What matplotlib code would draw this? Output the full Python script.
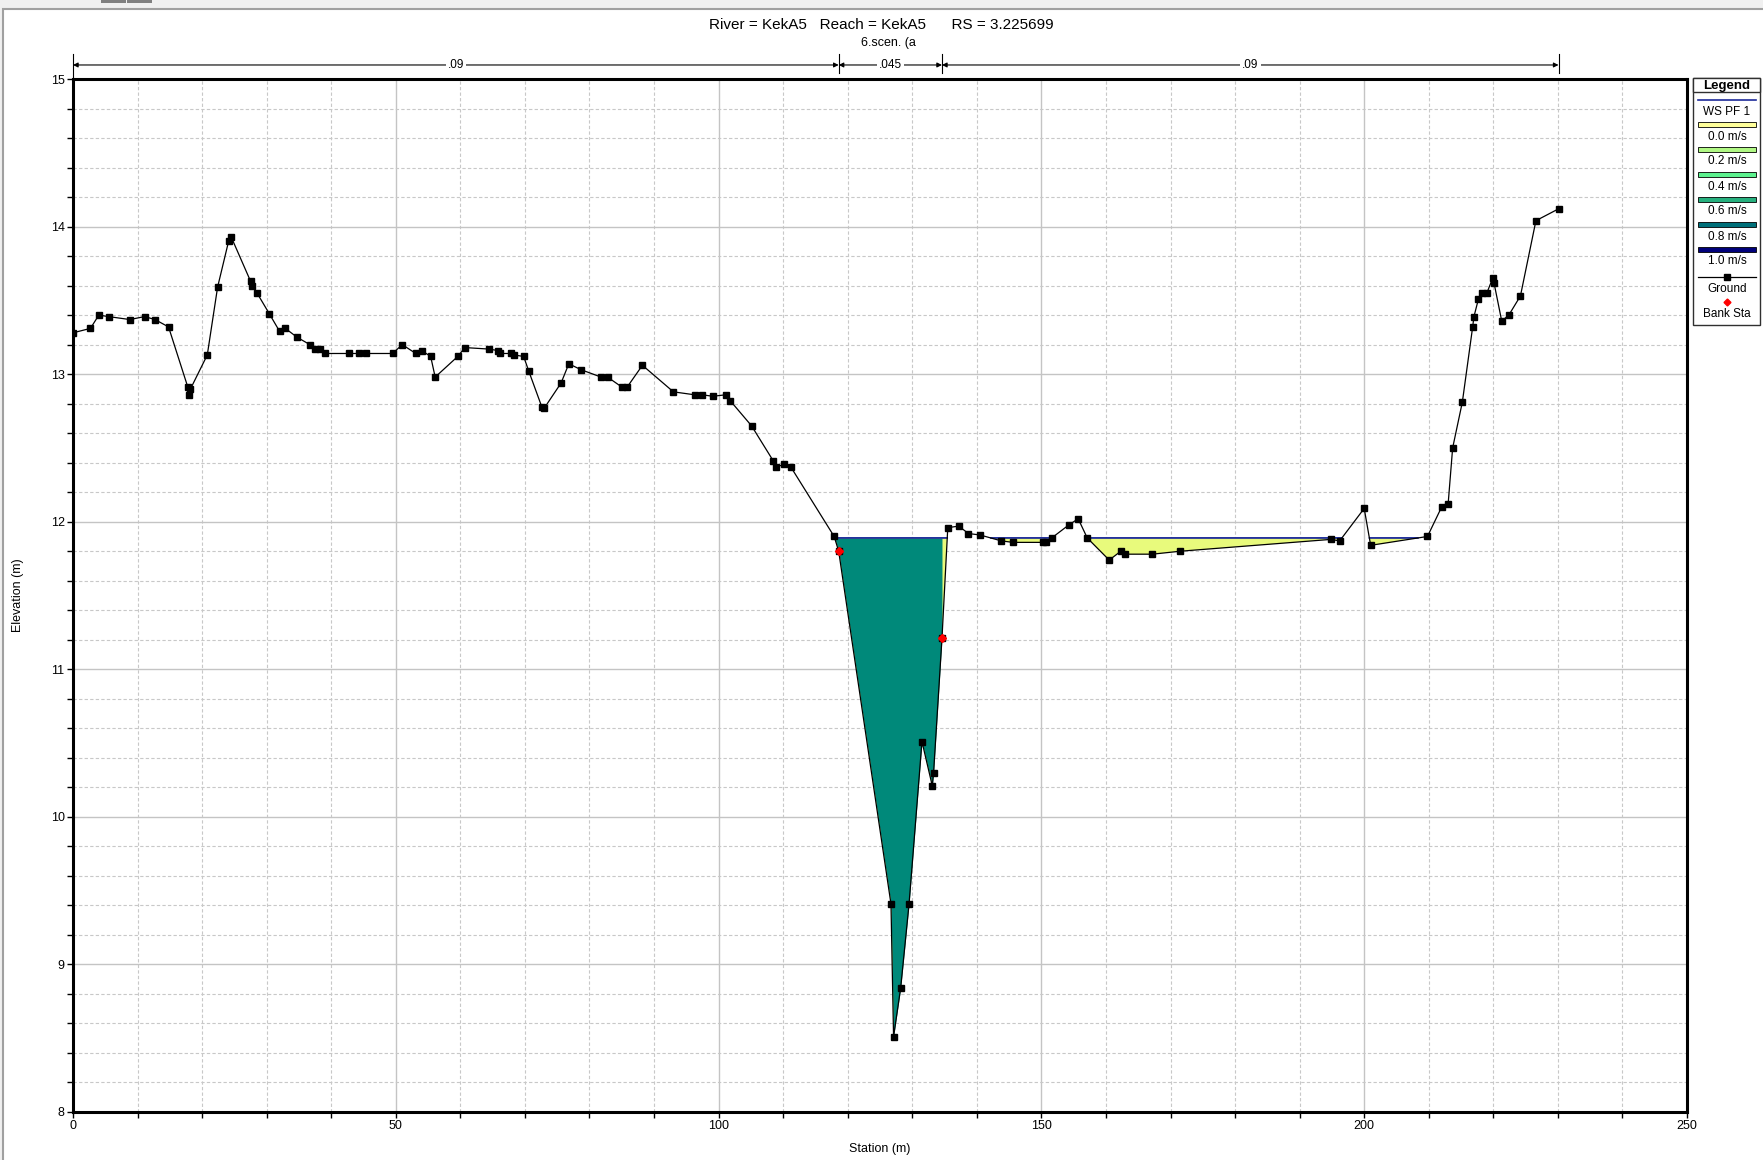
import numpy as np
import matplotlib
matplotlib.use("Agg")
import matplotlib.pyplot as plt
from matplotlib.patches import Rectangle
from matplotlib.ticker import MultipleLocator

# ground profile (station m, elevation m)
station = [0.0, 2.7, 4.0, 5.5, 8.8, 11.1, 12.7, 14.8, 17.8, 18.0, 18.2, 20.8,
           22.4, 24.1, 24.5, 27.5, 27.8, 28.5, 30.4, 32.0, 32.9, 34.7, 36.7,
           37.5, 38.2, 39.0, 42.8, 44.3, 45.4, 49.5, 51.0, 53.1, 54.0, 55.4,
           56.1, 59.6, 60.7, 64.4, 65.8, 66.2, 67.8, 68.3, 69.8, 70.6, 72.6,
           73.0, 75.6, 76.8, 78.7, 81.8, 82.8, 85.1, 85.8, 88.2, 93.0, 96.3,
           97.5, 99.1, 101.1, 101.8, 105.1, 108.5, 108.9, 110.2, 111.2, 117.9,
           118.6, 126.7, 127.1, 128.2, 129.5, 131.5, 133.1, 133.3, 134.6, 135.5,
           137.2, 138.7, 140.5, 143.8, 145.6, 150.3, 150.7, 151.6, 154.3, 155.7,
           157.1, 160.5, 162.3, 162.9, 167.2, 171.5, 194.8, 196.2, 200.0, 201.0,
           209.8, 212.0, 213.0, 213.7, 215.2, 216.8, 217.0, 217.7, 218.2, 219.0,
           219.9, 220.1, 221.3, 222.4, 224.2, 226.6, 230.1]
elevation = [13.28, 13.31, 13.40, 13.39, 13.37, 13.39, 13.37, 13.32, 12.91, 12.86,
             12.90, 13.13, 13.59, 13.90, 13.93, 13.63, 13.60, 13.55, 13.41, 13.29,
             13.31, 13.25, 13.20, 13.17, 13.17, 13.14, 13.14, 13.14, 13.14, 13.14,
             13.20, 13.14, 13.16, 13.12, 12.98, 13.12, 13.18, 13.17, 13.16, 13.14,
             13.14, 13.13, 13.12, 13.02, 12.78, 12.77, 12.94, 13.07, 13.03, 12.98,
             12.98, 12.91, 12.91, 13.06, 12.88, 12.86, 12.86, 12.85, 12.86, 12.82,
             12.65, 12.41, 12.37, 12.39, 12.37, 11.90, 11.80, 9.41, 8.51, 8.84,
             9.41, 10.51, 10.21, 10.30, 11.21, 11.96, 11.97, 11.92, 11.91, 11.87,
             11.86, 11.86, 11.86, 11.89, 11.98, 12.02, 11.89, 11.74, 11.80, 11.78,
             11.78, 11.80, 11.88, 11.87, 12.09, 11.84, 11.90, 12.10, 12.12, 12.50,
             12.81, 13.32, 13.39, 13.51, 13.55, 13.55, 13.65, 13.62, 13.36, 13.40,
             13.53, 14.04, 14.12]

bank_station = [118.6, 134.6]
bank_elevation = [11.80, 11.21]
ws_elevation = 11.89

mann_bounds = [0.0, 118.6, 134.6, 230.1]
mann_values = [".09", ".045", ".09"]

vel_labels = ["0.0 m/s", "0.2 m/s", "0.4 m/s", "0.6 m/s", "0.8 m/s", "1.0 m/s"]
vel_colors = ["#ffff99", "#b0f884", "#5cf28e", "#26b07e", "#00707a", "#00007a"]

title = "River = KekA5   Reach = KekA5      RS = 3.225699"
subtitle = "6.scen. (a"

W, H = 1763, 1160
plt.rcParams['font.family'] = ['Liberation Sans', 'DejaVu Sans']

fig = plt.figure(figsize=(W / 100, H / 100), dpi=100)
fig.patch.set_facecolor('#f0f0f0')
fig.add_artist(Rectangle((3 / W, -0.01), 1.0, 1 - 9 / H + 0.01, transform=fig.transFigure,
                         facecolor='white', edgecolor='#a0a0a0', lw=1.5, zorder=-5))
for bx in (101, 127):
    fig.add_artist(Rectangle((bx / W, 1 - 3 / H), 25 / W, 3 / H, transform=fig.transFigure,
                             facecolor='#808080', edgecolor='none', zorder=-4))

ax = fig.add_axes([73 / W, 1 - 1112 / H, (1687 - 73) / W, (1112 - 79) / H])
ax.set_xlim(0, 250)
ax.set_ylim(8, 15)
ax.set_xticks(np.arange(0, 251, 50))
ax.set_yticks(np.arange(8, 16, 1))
ax.xaxis.set_minor_locator(MultipleLocator(10))
ax.yaxis.set_minor_locator(MultipleLocator(0.2))
ax.grid(which='major', color='#c4c4c4', lw=1.0, ls='-', zorder=0)
ax.grid(which='minor', color='#c8c8c8', lw=0.8, ls=(0, (3, 2)), zorder=0)
ax.set_axisbelow(True)
for s in ax.spines.values():
    s.set_linewidth(2.2)
ax.tick_params(which='major', direction='out', length=4, width=1, labelsize=9, pad=2)
ax.tick_params(which='minor', direction='out', length=4, width=1)

st = np.array(station)
el = np.array(elevation)

# ponded water and channel flow
ax.fill_between(st, el, ws_elevation, where=el < ws_elevation, interpolate=True,
                color='#e8fa7c', lw=0, zorder=2)
chan = (st >= 117.9) & (st <= bank_station[1])
ax.fill_between(st, el, ws_elevation, where=chan, color='#00897a', lw=0, zorder=3)

xs = np.linspace(st[0], st[-1], 6000)
gs = np.interp(xs, st, el)
ax.plot(xs, np.where(gs < ws_elevation, ws_elevation, np.nan), color='#1c2a9a', lw=1.3, zorder=4)

ax.plot(st, el, color='black', lw=0.9, marker='s', ms=4, zorder=5)
ax.plot(bank_station, bank_elevation, ls='none', marker='D', color='red', ms=4, zorder=6)

# Manning's n bars
yb = 15.095
for x0, x1, n in zip(mann_bounds[:-1], mann_bounds[1:], mann_values):
    ax.annotate('', xy=(x0, yb), xytext=(x1, yb), annotation_clip=False,
                arrowprops=dict(arrowstyle='<|-|>', color='black', lw=0.8,
                                shrinkA=0, shrinkB=0, mutation_scale=7))
    ax.text((x0 + x1) / 2, yb, n, ha='center', va='center', fontsize=8.5, clip_on=False,
            bbox=dict(facecolor='white', edgecolor='none', pad=1.5), zorder=7)
for i, b in enumerate(mann_bounds):
    top = 15.17
    bot = 15.0 if i == 0 else 15.04
    ax.plot([b, b], [bot, top], color='black', lw=0.8, clip_on=False)

fig.text(881 / W, 1 - 25 / H, title, ha='center', va='center', fontsize=11)
fig.text(888 / W, 1 - 43 / H, subtitle, ha='center', va='center', fontsize=9)
fig.text(880 / W, 1 - 1149 / H, "Station (m)", ha='center', va='center', fontsize=9)
fig.text(18 / W, 1 - 595 / H, "Elevation (m)", ha='center', va='center', fontsize=9,
         rotation=90)

# legend panel
lax = fig.add_axes([1693 / W, 1 - 325 / H, 68 / W, 247 / H])
lax.set_xlim(0, 68)
lax.set_ylim(247, 0)
lax.axis('off')
lax.add_patch(Rectangle((0, 0), 67, 247, fc='white', ec='#303030', lw=1, clip_on=False))
lax.add_patch(Rectangle((0, 0), 67, 14, fc='white', ec='#303030', lw=1, clip_on=False))
lax.text(34, 7.5, "Legend", ha='center', va='center', fontsize=9.5, fontweight='bold')
lax.plot([5, 63], [22, 22], color='#1c2a9a', lw=1.2)
lax.text(34, 34, "WS PF 1", ha='center', va='center', fontsize=8.5)
for i, (lab, c) in enumerate(zip(vel_labels, vel_colors)):
    yv = 46 + i * 25
    lax.add_patch(Rectangle((5, yv - 2.5), 58, 5, fc=c, ec='black', lw=0.6))
    lax.text(34, yv + 12.5, lab, ha='center', va='center', fontsize=8.5)
lax.plot([5, 63], [199, 199], color='black', lw=0.9)
lax.plot([34], [199], marker='s', color='black', ms=4)
lax.text(34, 211, "Ground", ha='center', va='center', fontsize=8.5)
lax.plot([34], [224], marker='D', color='red', ms=3.5)
lax.text(34, 236, "Bank Sta", ha='center', va='center', fontsize=8.5)

fig.savefig("out.png", dpi=100, facecolor=fig.get_facecolor())
